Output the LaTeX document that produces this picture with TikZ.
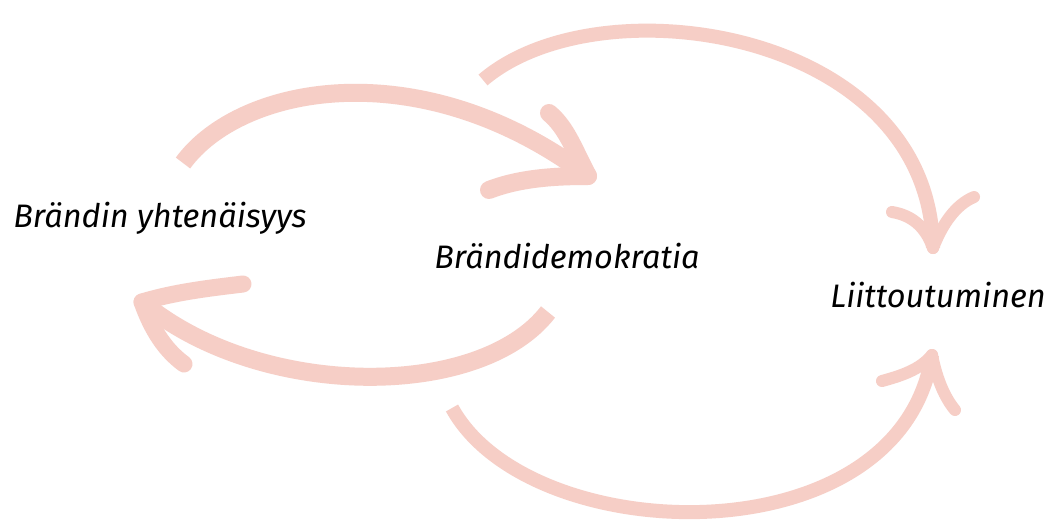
\documentclass[tikz,border=0pt]{standalone}
\usepackage{fontspec}
\setmainfont{Fira Sans}
\definecolor{arrowpink}{RGB}{246,206,198}
\tikzset{
  lbl/.style={font=\fontsize{32.5}{38}\selectfont\itshape, inner sep=0pt, text=black},
  shaft/.style={draw=arrowpink, line width=#1, line cap=butt},
  shaft/.default=18pt,
  barb/.style={draw=arrowpink, line width=#1, line cap=round},
  barb/.default=14pt
}
\begin{document}
\begin{tikzpicture}[x=1pt,y=-1pt]
\useasboundingbox (0,0) rectangle (1056,525);
\fill[white] (0,0) rectangle (1056,525);
\node[lbl] (yht) at (160,218) {Brändin yhtenäisyys};
\node[lbl] (dem) at (567,256) {Brändidemokratia};
\node[lbl] (lii) at (938,295) {Liittoutuminen};
% arrow 1
\coordinate (a1s) at (183,163);
\coordinate (a1t) at (588,176);
\draw[shaft] (a1s) .. controls (240,85) and (420,50) .. (a1t);
\draw[barb=18pt] (a1t) .. controls (574,150) and (567,128) .. (549,113);
\draw[barb=18pt] (a1t) .. controls (555,176) and (520,178) .. (489,190);
% arrow 2
\coordinate (a2s) at (548,312);
\coordinate (a2t) at (142,302);
\draw[shaft] (a2s) .. controls (480,400) and (260,400) .. (a2t);
\draw[barb=17pt] (a2t) .. controls (175,292) and (210,288) .. (243,284);
\draw[barb=17pt] (a2t) .. controls (152,330) and (165,350) .. (184,364);
% arrow 3
\coordinate (a3s) at (483,80);
\coordinate (a3t) at (933,248);
\draw[shaft=14pt] (a3s) .. controls (600,-20) and (930,30) .. (a3t);
\draw[barb=12pt] (a3t) .. controls (925,225) and (910,215) .. (892,212);
\draw[barb=12pt] (a3t) .. controls (942,225) and (955,205) .. (974,197);
% arrow 4
\coordinate (a4s) at (452,408);
\coordinate (a4t) at (932,355);
\draw[shaft=14pt] (a4s) .. controls (530,550) and (900,560) .. (a4t);
\draw[barb=12pt] (a4t) .. controls (920,370) and (900,376) .. (882,381);
\draw[barb=12pt] (a4t) .. controls (937,380) and (945,398) .. (955,410);
\end{tikzpicture}
\end{document}
